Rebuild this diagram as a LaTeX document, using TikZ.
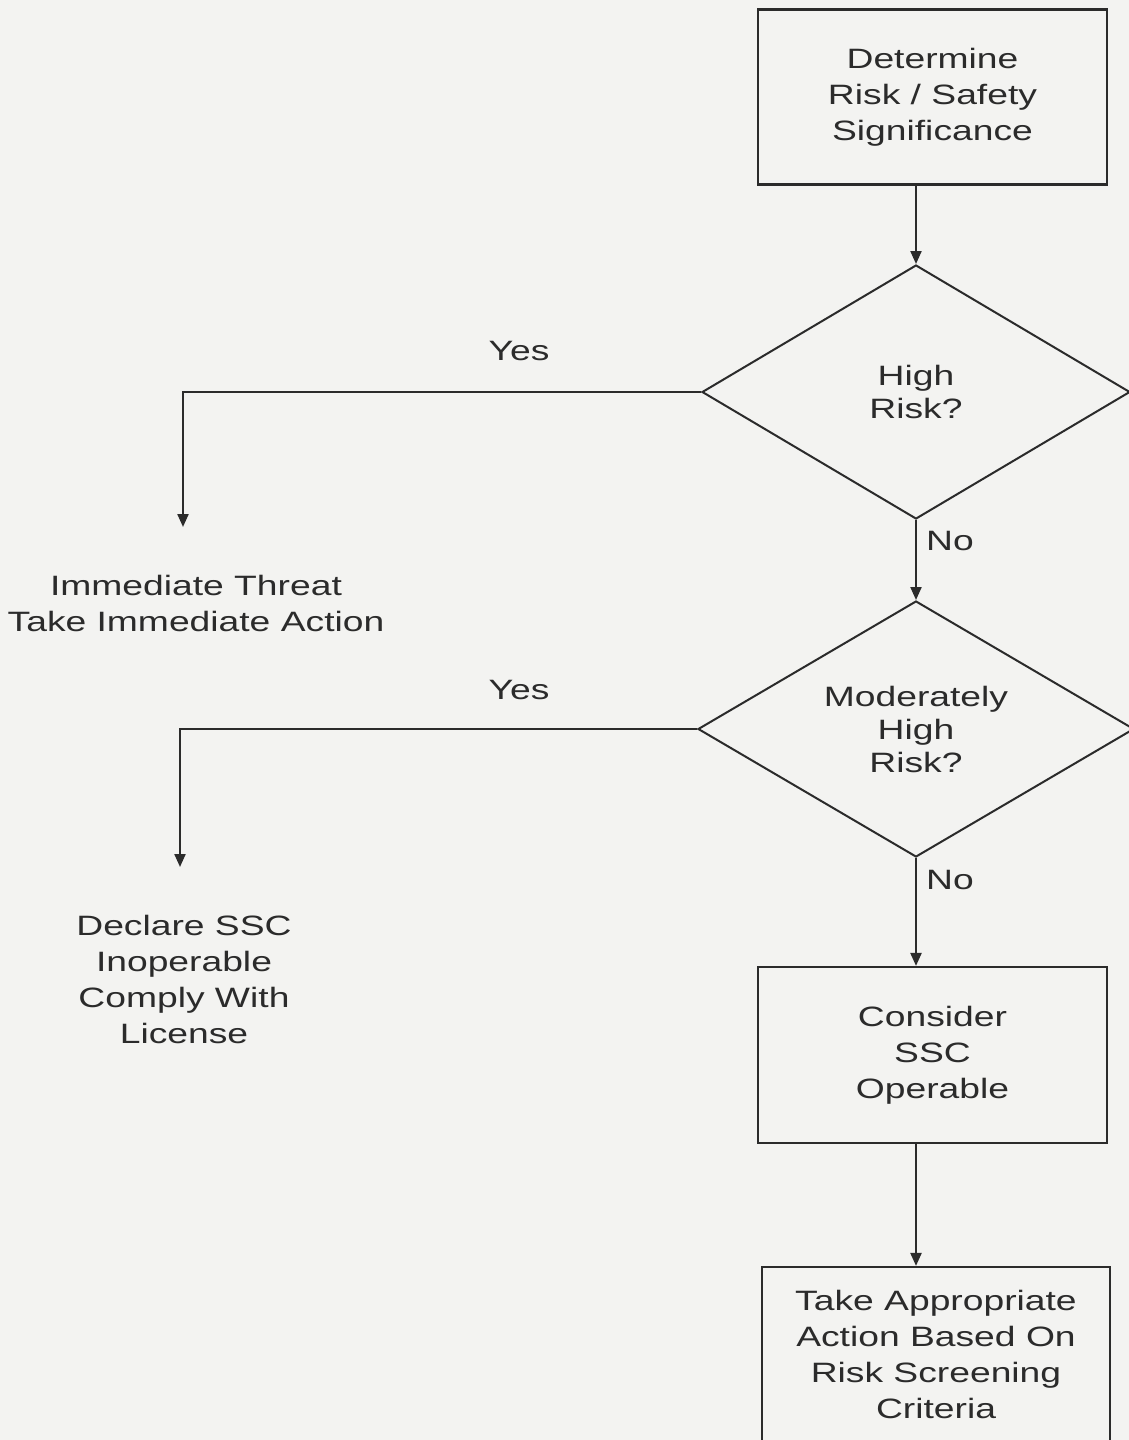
\documentclass[tikz,border=0pt]{standalone}
\usepackage{fontspec}
\setmainfont{Liberation Sans}[FakeStretch=1.33]
\usetikzlibrary{shapes.geometric,arrows.meta}
\definecolor{ink}{HTML}{2B2B2B}
\definecolor{paper}{HTML}{F3F3F1}
\begin{document}
\begin{tikzpicture}[x=1pt,y=-1pt,
  every node/.style={font=\fontsize{28}{36}\selectfont, text=ink},
  procbox/.style={draw=ink, line width=2.2pt, minimum width=349pt, minimum height=175pt, align=center, inner sep=0pt},
  decision/.style={diamond, aspect=1.7, draw=ink, line width=2pt, inner sep=0pt, align=center, font=\fontsize{28}{33}\selectfont},
  plain/.style={align=center, inner sep=0pt},
  flow/.style={draw=ink, line width=2.2pt, -{Triangle[width=11pt,length=13pt]}}]
\fill[paper] (0,0) rectangle (1129,1440);
\useasboundingbox (0,0) rectangle (1129,1440);

\node[procbox] (b1) at (932.5,97) {Determine\\Risk / Safety\\Significance};
\node[decision, minimum width=428pt, minimum height=254pt] (d1) at (916,392) {High\\Risk?};
\node[decision, minimum width=436pt, minimum height=256pt] (d2) at (916,729) {Moderately\\High\\Risk?};
\node[procbox, minimum height=176pt] (b3) at (932.5,1055) {Consider\\SSC\\Operable};
\node[procbox, minimum width=348pt] (b4) at (936,1354.5) {Take Appropriate\\Action Based On\\Risk Screening\\Criteria};

\node[plain] (t1) at (196,603) {Immediate Threat\\Take Immediate Action};
\node[plain] (t2) at (184,979) {Declare SSC\\Inoperable\\Comply With\\License};

\coordinate (a1) at (183,527);
\coordinate (a2) at (180,867);

\node[plain] (y1) at (519,351) {Yes};
\node[plain] (y2) at (519,690) {Yes};
\node[plain, anchor=west] (n1) at (926,541) {No};
\node[plain, anchor=west] (n2) at (926,880) {No};

\draw[flow] (b1.south -| d1.north) -- (d1.north);
\draw[flow] (d1.south) -- (d2.north);
\draw[flow] (d1.west) -| (a1);
\draw[flow] (d2.west) -| (a2);
\draw[flow] (d2.south) -- (d2.south |- b3.north);
\draw[flow] (b3.south -| d2.south) -- (b4.north -| d2.south);
\end{tikzpicture}
\end{document}
